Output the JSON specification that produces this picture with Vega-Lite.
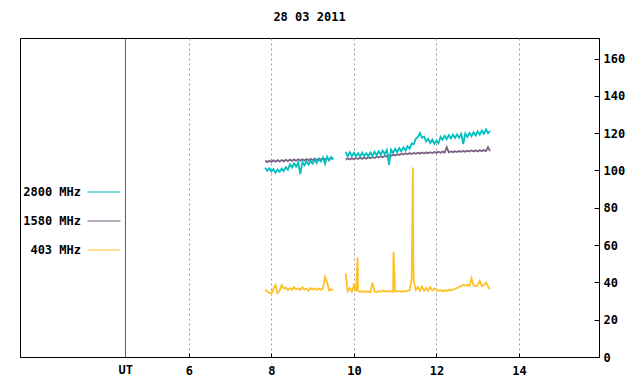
{
"$schema":"https://vega.github.io/schema/vega-lite/v6.json",
"width":579,"height":319,
"autosize":{"type":"none"},
"padding":{"left":20,"top":38,"right":41,"bottom":27},
"background":"white",
"title":{"text":"28 03 2011","font":"DejaVu Sans Mono","fontSize":12,"fontWeight":"bold","color":"black","offset":14,"anchor":"middle"},
"config":{"view":{"stroke":"black","strokeWidth":1},"font":"DejaVu Sans Mono"},
"data":{"values":[
{"t":7.85,"s":1,"2800 MHz":101.5,"1580 MHz":105.3,"403 MHz":36.0},
{"t":7.90,"s":1,"2800 MHz":99.8,"1580 MHz":104.5,"403 MHz":35.2},
{"t":7.95,"s":1,"2800 MHz":101.2,"1580 MHz":105.2,"403 MHz":34.5},
{"t":8.00,"s":1,"2800 MHz":99.5,"1580 MHz":104.6,"403 MHz":33.8},
{"t":8.05,"s":1,"2800 MHz":100.8,"1580 MHz":105.4,"403 MHz":36.5},
{"t":8.10,"s":1,"2800 MHz":98.8,"1580 MHz":104.7,"403 MHz":38.6},
{"t":8.15,"s":1,"2800 MHz":100.5,"1580 MHz":105.5,"403 MHz":34.2},
{"t":8.20,"s":1,"2800 MHz":99.3,"1580 MHz":104.8,"403 MHz":35.5},
{"t":8.25,"s":1,"2800 MHz":101.0,"1580 MHz":105.6,"403 MHz":38.6},
{"t":8.30,"s":1,"2800 MHz":99.6,"1580 MHz":104.9,"403 MHz":36.8},
{"t":8.35,"s":1,"2800 MHz":101.8,"1580 MHz":105.7,"403 MHz":37.2},
{"t":8.40,"s":1,"2800 MHz":100.4,"1580 MHz":105.0,"403 MHz":35.8},
{"t":8.45,"s":1,"2800 MHz":103.2,"1580 MHz":105.8,"403 MHz":36.9},
{"t":8.50,"s":1,"2800 MHz":101.6,"1580 MHz":105.1,"403 MHz":36.0},
{"t":8.55,"s":1,"2800 MHz":103.8,"1580 MHz":105.9,"403 MHz":37.5},
{"t":8.60,"s":1,"2800 MHz":102.0,"1580 MHz":105.2,"403 MHz":36.2},
{"t":8.65,"s":1,"2800 MHz":104.2,"1580 MHz":106.0,"403 MHz":36.8},
{"t":8.70,"s":1,"2800 MHz":98.0,"1580 MHz":105.3,"403 MHz":35.9},
{"t":8.75,"s":1,"2800 MHz":104.5,"1580 MHz":106.0,"403 MHz":37.4},
{"t":8.80,"s":1,"2800 MHz":102.8,"1580 MHz":105.3,"403 MHz":36.1},
{"t":8.85,"s":1,"2800 MHz":104.8,"1580 MHz":106.1,"403 MHz":36.7},
{"t":8.90,"s":1,"2800 MHz":103.2,"1580 MHz":105.4,"403 MHz":35.6},
{"t":8.95,"s":1,"2800 MHz":105.0,"1580 MHz":106.2,"403 MHz":36.9},
{"t":9.00,"s":1,"2800 MHz":103.6,"1580 MHz":105.5,"403 MHz":36.3},
{"t":9.05,"s":1,"2800 MHz":105.6,"1580 MHz":106.3,"403 MHz":36.8},
{"t":9.10,"s":1,"2800 MHz":104.0,"1580 MHz":105.6,"403 MHz":36.0},
{"t":9.15,"s":1,"2800 MHz":106.2,"1580 MHz":106.4,"403 MHz":36.6},
{"t":9.20,"s":1,"2800 MHz":104.8,"1580 MHz":105.7,"403 MHz":36.1},
{"t":9.25,"s":1,"2800 MHz":107.0,"1580 MHz":106.5,"403 MHz":36.5},
{"t":9.30,"s":1,"2800 MHz":103.5,"1580 MHz":105.8,"403 MHz":42.8},
{"t":9.35,"s":1,"2800 MHz":107.4,"1580 MHz":106.6,"403 MHz":40.0},
{"t":9.40,"s":1,"2800 MHz":105.4,"1580 MHz":105.9,"403 MHz":35.6},
{"t":9.45,"s":1,"2800 MHz":107.2,"1580 MHz":106.7,"403 MHz":36.2},
{"t":9.50,"s":1,"2800 MHz":106.0,"1580 MHz":106.0,"403 MHz":35.9},
{"t":9.80,"s":2,"2800 MHz":110.0,"1580 MHz":105.8,"403 MHz":44.9},
{"t":9.85,"s":2,"2800 MHz":107.5,"1580 MHz":106.5,"403 MHz":35.3},
{"t":9.90,"s":2,"2800 MHz":109.8,"1580 MHz":105.9,"403 MHz":37.0},
{"t":9.95,"s":2,"2800 MHz":107.8,"1580 MHz":106.6,"403 MHz":35.0},
{"t":10.00,"s":2,"2800 MHz":109.5,"1580 MHz":106.0,"403 MHz":38.6},
{"t":10.05,"s":2,"2800 MHz":107.6,"1580 MHz":106.7,"403 MHz":35.1},
{"t":10.09,"s":2,"403 MHz":53.3},
{"t":10.10,"s":2,"2800 MHz":109.3,"1580 MHz":106.1,"403 MHz":35.4},
{"t":10.15,"s":2,"2800 MHz":107.4,"1580 MHz":106.8,"403 MHz":35.0},
{"t":10.20,"s":2,"2800 MHz":109.6,"1580 MHz":106.2,"403 MHz":35.3},
{"t":10.25,"s":2,"2800 MHz":107.8,"1580 MHz":106.9,"403 MHz":34.8},
{"t":10.30,"s":2,"2800 MHz":109.2,"1580 MHz":106.3,"403 MHz":35.2},
{"t":10.35,"s":2,"2800 MHz":107.5,"1580 MHz":107.0,"403 MHz":35.0},
{"t":10.40,"s":2,"2800 MHz":109.6,"1580 MHz":106.5,"403 MHz":34.7},
{"t":10.45,"s":2,"2800 MHz":108.0,"1580 MHz":107.2,"403 MHz":39.9},
{"t":10.50,"s":2,"2800 MHz":110.0,"1580 MHz":106.7,"403 MHz":35.1},
{"t":10.55,"s":2,"2800 MHz":108.2,"1580 MHz":107.4,"403 MHz":34.8},
{"t":10.60,"s":2,"2800 MHz":110.3,"1580 MHz":106.9,"403 MHz":35.3},
{"t":10.65,"s":2,"2800 MHz":108.5,"1580 MHz":107.6,"403 MHz":35.0},
{"t":10.70,"s":2,"2800 MHz":110.6,"1580 MHz":107.1,"403 MHz":35.6},
{"t":10.75,"s":2,"2800 MHz":108.8,"1580 MHz":107.8,"403 MHz":35.2},
{"t":10.80,"s":2,"2800 MHz":111.0,"1580 MHz":107.4,"403 MHz":35.4},
{"t":10.85,"s":2,"2800 MHz":103.0,"1580 MHz":108.1,"403 MHz":35.0},
{"t":10.90,"s":2,"2800 MHz":111.2,"1580 MHz":107.7,"403 MHz":35.3},
{"t":10.95,"s":2,"2800 MHz":109.4,"1580 MHz":108.4,"403 MHz":35.0},
{"t":10.96,"s":2,"403 MHz":56.3},
{"t":11.00,"s":2,"2800 MHz":111.6,"1580 MHz":108.0,"403 MHz":35.2},
{"t":11.05,"s":2,"2800 MHz":109.8,"1580 MHz":108.7,"403 MHz":35.1},
{"t":11.10,"s":2,"2800 MHz":112.0,"1580 MHz":108.3,"403 MHz":35.4},
{"t":11.15,"s":2,"2800 MHz":110.2,"1580 MHz":109.0,"403 MHz":35.0},
{"t":11.20,"s":2,"2800 MHz":112.4,"1580 MHz":108.5,"403 MHz":35.3},
{"t":11.25,"s":2,"2800 MHz":110.6,"1580 MHz":109.2,"403 MHz":35.1},
{"t":11.30,"s":2,"2800 MHz":113.0,"1580 MHz":108.7,"403 MHz":35.5},
{"t":11.35,"s":2,"2800 MHz":111.6,"1580 MHz":109.3,"403 MHz":35.8},
{"t":11.40,"s":2,"2800 MHz":114.5,"1580 MHz":108.8,"403 MHz":41.7},
{"t":11.43,"s":2,"403 MHz":101.6},
{"t":11.44,"s":2,"403 MHz":52.0},
{"t":11.45,"s":2,"2800 MHz":114.0,"1580 MHz":109.4,"403 MHz":40.4},
{"t":11.50,"s":2,"2800 MHz":117.0,"1580 MHz":108.9,"403 MHz":36.0},
{"t":11.55,"s":2,"2800 MHz":118.0,"1580 MHz":109.5,"403 MHz":37.5},
{"t":11.60,"s":2,"2800 MHz":120.0,"1580 MHz":109.0,"403 MHz":35.6},
{"t":11.65,"s":2,"2800 MHz":117.5,"1580 MHz":109.6,"403 MHz":37.8},
{"t":11.70,"s":2,"2800 MHz":118.2,"1580 MHz":109.1,"403 MHz":35.5},
{"t":11.75,"s":2,"2800 MHz":115.5,"1580 MHz":109.7,"403 MHz":37.0},
{"t":11.80,"s":2,"2800 MHz":117.0,"1580 MHz":109.2,"403 MHz":35.4},
{"t":11.85,"s":2,"2800 MHz":114.8,"1580 MHz":109.8,"403 MHz":37.6},
{"t":11.90,"s":2,"2800 MHz":116.5,"1580 MHz":109.3,"403 MHz":35.6},
{"t":11.95,"s":2,"2800 MHz":114.2,"1580 MHz":109.9,"403 MHz":36.8},
{"t":12.00,"s":2,"2800 MHz":116.0,"1580 MHz":109.4,"403 MHz":36.2},
{"t":12.05,"s":2,"2800 MHz":114.5,"1580 MHz":110.0,"403 MHz":35.4},
{"t":12.10,"s":2,"2800 MHz":118.0,"1580 MHz":109.5,"403 MHz":35.9},
{"t":12.15,"s":2,"2800 MHz":116.4,"1580 MHz":110.1,"403 MHz":35.2},
{"t":12.20,"s":2,"2800 MHz":118.6,"1580 MHz":109.6,"403 MHz":35.8},
{"t":12.25,"s":2,"2800 MHz":116.8,"1580 MHz":112.5,"403 MHz":35.4},
{"t":12.30,"s":2,"2800 MHz":119.0,"1580 MHz":109.7,"403 MHz":36.0},
{"t":12.35,"s":2,"2800 MHz":117.2,"1580 MHz":110.2,"403 MHz":35.6},
{"t":12.40,"s":2,"2800 MHz":119.2,"1580 MHz":109.8,"403 MHz":36.2},
{"t":12.45,"s":2,"2800 MHz":117.4,"1580 MHz":110.3,"403 MHz":36.5},
{"t":12.50,"s":2,"2800 MHz":119.4,"1580 MHz":109.9,"403 MHz":37.0},
{"t":12.55,"s":2,"2800 MHz":117.6,"1580 MHz":110.4,"403 MHz":37.6},
{"t":12.60,"s":2,"2800 MHz":119.6,"1580 MHz":110.0,"403 MHz":38.0},
{"t":12.65,"s":2,"2800 MHz":114.2,"1580 MHz":110.5,"403 MHz":38.6},
{"t":12.70,"s":2,"2800 MHz":119.8,"1580 MHz":110.0,"403 MHz":38.2},
{"t":12.75,"s":2,"2800 MHz":118.0,"1580 MHz":110.6,"403 MHz":38.8},
{"t":12.80,"s":2,"2800 MHz":120.2,"1580 MHz":110.1,"403 MHz":38.0},
{"t":12.85,"s":2,"2800 MHz":118.4,"1580 MHz":110.7,"403 MHz":42.2},
{"t":12.90,"s":2,"2800 MHz":120.5,"1580 MHz":110.2,"403 MHz":38.3},
{"t":12.95,"s":2,"2800 MHz":118.8,"1580 MHz":110.8,"403 MHz":37.8},
{"t":13.00,"s":2,"2800 MHz":121.0,"1580 MHz":110.2,"403 MHz":38.5},
{"t":13.05,"s":2,"2800 MHz":119.2,"1580 MHz":110.9,"403 MHz":40.8},
{"t":13.10,"s":2,"2800 MHz":121.4,"1580 MHz":110.3,"403 MHz":38.0},
{"t":13.15,"s":2,"2800 MHz":119.6,"1580 MHz":110.9,"403 MHz":38.6},
{"t":13.20,"s":2,"2800 MHz":122.0,"1580 MHz":110.4,"403 MHz":39.9},
{"t":13.25,"s":2,"2800 MHz":120.0,"1580 MHz":112.5,"403 MHz":37.8},
{"t":13.30,"s":2,"2800 MHz":121.2,"1580 MHz":110.4,"403 MHz":36.3}
]},
"transform":[
{"fold":["1580 MHz","2800 MHz","403 MHz"],"as":["band","v"]},
{"filter":"isValid(datum.v)"}
],
"mark":{"type":"line","clip":true,"strokeWidth":1.8},
"encoding":{
"x":{"field":"t","type":"quantitative","scale":{"domain":[1.908,15.94],"nice":false,"zero":false},
"axis":{"title":null,"values":[4.46,6,8,10,12,14],"format":"d","labelExpr":"datum.value < 5 ? 'UT' : datum.label",
"grid":true,
"gridColor":{"condition":{"test":"datum.value < 5","value":"#8b0000"},"value":"#999999"},
"gridDash":{"condition":{"test":"datum.value < 5","value":[1,0]},"value":[2,3]},
"gridWidth":1,
"tickSize":-4,"tickColor":"black",
"tickOpacity":{"condition":{"test":"datum.value < 5","value":0},"value":1},
"labelPadding":{"condition":{"test":"datum.value < 5","value":11},"value":12},
"labelBaseline":"top","labelFont":"DejaVu Sans Mono","labelFontSize":12,"labelFontWeight":"bold","labelColor":"black",
"domainColor":"black","labelFlush":false,"labelOverlap":false}},
"y":{"field":"v","type":"quantitative","scale":{"domain":[0,171],"nice":false},
"axis":{"title":null,"orient":"right","values":[0,20,40,60,80,100,120,140,160],"grid":false,
"tickSize":-5,"tickColor":"black","labelPadding":9,"labelFont":"DejaVu Sans Mono","labelFontSize":12,"labelFontWeight":"bold","labelColor":"black","domainColor":"black","labelFlush":false,"labelOverlap":false}},
"color":{"field":"band","type":"nominal",
"scale":{"domain":["2800 MHz","1580 MHz","403 MHz"],"range":["#00bfbf","#7b6183","#ffc125"]},
"legend":{"title":null,"orient":"none","legendX":78,"legendY":148,"symbolType":"M-5.5,0H5.5","symbolSize":36,"symbolStrokeWidth":1,
"labelAlign":"right","labelOffset":-29,"labelFont":"DejaVu Sans Mono","labelFontSize":12,"labelFontWeight":"bold","labelColor":"black","rowPadding":17,"padding":0}},
"detail":{"field":"s"}
}
}
